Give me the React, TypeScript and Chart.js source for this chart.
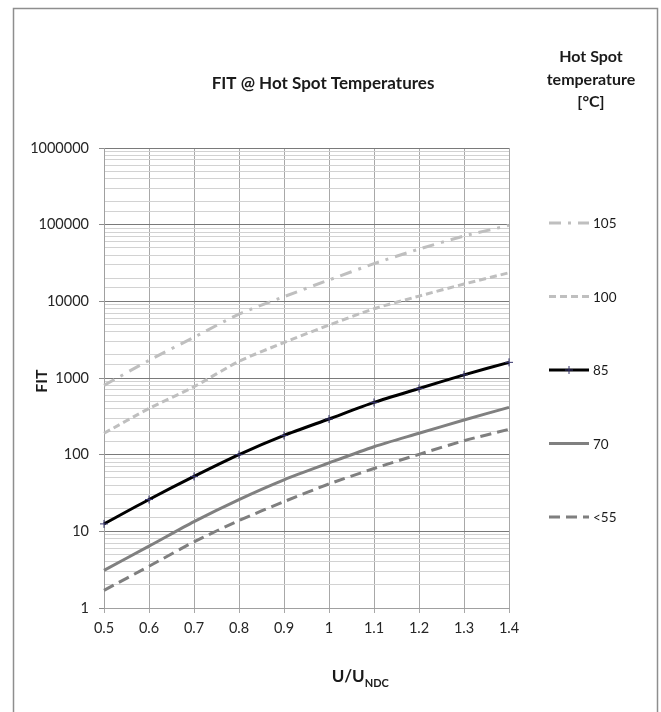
import React, { useEffect, useRef } from 'react';
import { Chart, registerables } from 'chart.js';

Chart.register(...registerables);

// ---- data ----
const categories = ['0.5', '0.6', '0.7', '0.8', '0.9', '1', '1.1', '1.2', '1.3', '1.4'];
const seriesNames = ['105', '100', '85', '70', '<55'];
const fit105 = [800, 1700, 3400, 6800, 11500, 19000, 31000, 48000, 71000, 98000];
const fit100 = [190, 400, 770, 1650, 2900, 4900, 8000, 11700, 16800, 23600];
const fit85 = [12.5, 26, 52, 100, 178, 292, 480, 730, 1100, 1600];
const fit70 = [3.1, 6.4, 13.4, 26, 47, 78, 127, 190, 283, 414];
const fit55 = [1.7, 3.5, 7.3, 13.8, 24.4, 41.5, 66, 101, 152, 214];
const yTickLabels = [1, 10, 100, 1000, 10000, 100000, 1000000];

const chartTitle = 'FIT @ Hot Spot Temperatures';
const legendTitle = ['Hot Spot', 'temperature', '[°C]'];
const yTitle = 'FIT';
const xTitleMain = 'U/U';
const xTitleSub = 'NDC';

// ---- styles ----
const FONT = 'Lato, "Open Sans", sans-serif';
const seriesColors = ['#bfbfbf', '#bfbfbf', '#000000', '#808080', '#7f7f7f'];
const seriesDashes: number[][] = [[12, 7, 3, 7], [7, 4], [], [], [11, 6]];

function isPow10(v: number) {
  if (!(v > 0)) return false;
  const l = Math.log10(v);
  return Math.abs(l - Math.round(l)) < 1e-6;
}

function drawCross(ctx: CanvasRenderingContext2D, x: number, y: number, r: number) {
  ctx.save();
  ctx.strokeStyle = '#34336a';
  ctx.lineWidth = 1;
  ctx.setLineDash([]);
  ctx.beginPath();
  ctx.moveTo(x - r, y);
  ctx.lineTo(x + r, y);
  ctx.moveTo(x, y - r);
  ctx.lineTo(x, y + r);
  ctx.stroke();
  ctx.restore();
}

const decorPlugin = {
  id: 'decor',
  beforeDraw(chart: any) {
    const ctx: CanvasRenderingContext2D = chart.ctx;
    ctx.save();
    ctx.fillStyle = '#ffffff';
    ctx.fillRect(0, 0, chart.width, chart.height);
    ctx.strokeStyle = '#8e8e8e';
    ctx.lineWidth = 1.5;
    ctx.strokeRect(13.5, 8.5, 644, 730);
    ctx.restore();
  },
  afterDraw(chart: any) {
    const ctx: CanvasRenderingContext2D = chart.ctx;
    const area = chart.chartArea;
    ctx.save();
    ctx.fillStyle = '#1a1a1a';
    ctx.textBaseline = 'middle';

    // chart title
    ctx.font = `bold 17px ${FONT}`;
    ctx.textAlign = 'center';
    ctx.fillText(chartTitle, 323, 84);

    // legend title
    ctx.font = `bold 16px ${FONT}`;
    legendTitle.forEach((t, i) => ctx.fillText(t, 591, 57 + i * 22.5));

    // y title
    ctx.save();
    ctx.translate(42, 381);
    ctx.rotate(-Math.PI / 2);
    ctx.font = `bold 16px ${FONT}`;
    ctx.textAlign = 'center';
    ctx.fillText(yTitle, 0, 0);
    ctx.restore();

    // x title with subscript
    ctx.font = `bold 17px ${FONT}`;
    const wMain = ctx.measureText(xTitleMain).width;
    ctx.font = `bold 11px ${FONT}`;
    const wSub = ctx.measureText(xTitleSub).width;
    const cx = area.left + (area.right - area.left) * 0.633;
    const startX = cx - (wMain + wSub) / 2;
    ctx.textAlign = 'left';
    ctx.font = `bold 17px ${FONT}`;
    ctx.fillText(xTitleMain, startX, 677);
    ctx.font = `bold 11px ${FONT}`;
    ctx.fillText(xTitleSub, startX + wMain, 683);

    // legend entries
    const datasets = chart.data.datasets;
    datasets.forEach((ds: any, i: number) => {
      const y = 223 + i * 73.5;
      ctx.save();
      ctx.strokeStyle = ds.borderColor;
      ctx.lineWidth = 3;
      ctx.setLineDash(ds.borderDash || []);
      ctx.beginPath();
      ctx.moveTo(549, y);
      ctx.lineTo(589, y);
      ctx.stroke();
      ctx.restore();
      if (ds.pointRadius > 0) drawCross(ctx, 569, y, 4);
      ctx.font = `13.5px ${FONT}`;
      ctx.fillStyle = '#1a1a1a';
      ctx.textAlign = 'left';
      ctx.fillText(ds.label, 593, y + 1);
    });
    ctx.restore();
  },
};

export default function App() {
  const canvasRef = useRef<HTMLCanvasElement | null>(null);

  useEffect(() => {
    if (!canvasRef.current) return;
    const values = [fit105, fit100, fit85, fit70, fit55];
    const chart = new Chart(canvasRef.current, {
      type: 'line',
      data: {
        labels: categories,
        datasets: seriesNames.map((name, i) => ({
          label: name,
          data: values[i],
          borderColor: seriesColors[i],
          backgroundColor: seriesColors[i],
          borderWidth: 3,
          borderDash: seriesDashes[i],
          tension: 0.25,
          fill: false,
          pointRadius: i === 2 ? 4 : 0,
          pointStyle: 'cross',
          pointBorderColor: '#34336a',
          pointBorderWidth: 1,
        })),
      },
      options: {
        responsive: false,
        animation: false,
        events: [],
        layout: { padding: { left: 0, right: 152, top: 148, bottom: 64 } },
        plugins: {
          legend: { display: false },
          title: { display: false },
          tooltip: { enabled: false },
        },
        scales: {
          x: {
            type: 'category',
            offset: false,
            afterFit: (scale: any) => {
              scale.height = 40;
            },
            grid: {
              color: '#a8a8a8',
              lineWidth: 1,
              tickLength: 5,
              tickColor: '#a8a8a8',
              offset: false,
            },
            border: { color: '#a0a0a0', width: 1 },
            ticks: {
              color: '#262626',
              font: { family: FONT, size: 14.5 },
              padding: 7,
              maxRotation: 0,
              autoSkip: false,
            },
          },
          y: {
            type: 'logarithmic',
            min: 1,
            max: 1000000,
            afterFit: (scale: any) => {
              scale.width = 104;
            },
            grid: {
              color: (c: any) => (isPow10(c.tick?.value) ? '#7a7a7a' : '#d2d2d2'),
              lineWidth: 1,
              tickLength: 5,
              tickColor: (c: any) => (isPow10(c.tick?.value) ? '#8a8a8a' : 'rgba(0,0,0,0)'),
            },
            border: { color: '#a0a0a0', width: 1 },
            ticks: {
              color: '#262626',
              font: { family: FONT, size: 14.5 },
              padding: 10,
              autoSkip: false,
              callback: (v: any) => {
                const n = Number(v);
                return yTickLabels.some((t) => Math.abs(t - n) < 1e-6 * t) ? String(Math.round(n)) : '';
              },
            },
          },
        },
      },
      plugins: [decorPlugin],
    } as any);
    return () => chart.destroy();
  }, []);

  return (
    <div style={{ position: 'absolute', left: 0, top: 0, width: 661, height: 712 }}>
      <canvas ref={canvasRef} width={661} height={712} style={{ display: 'block' }} />
    </div>
  );
}
